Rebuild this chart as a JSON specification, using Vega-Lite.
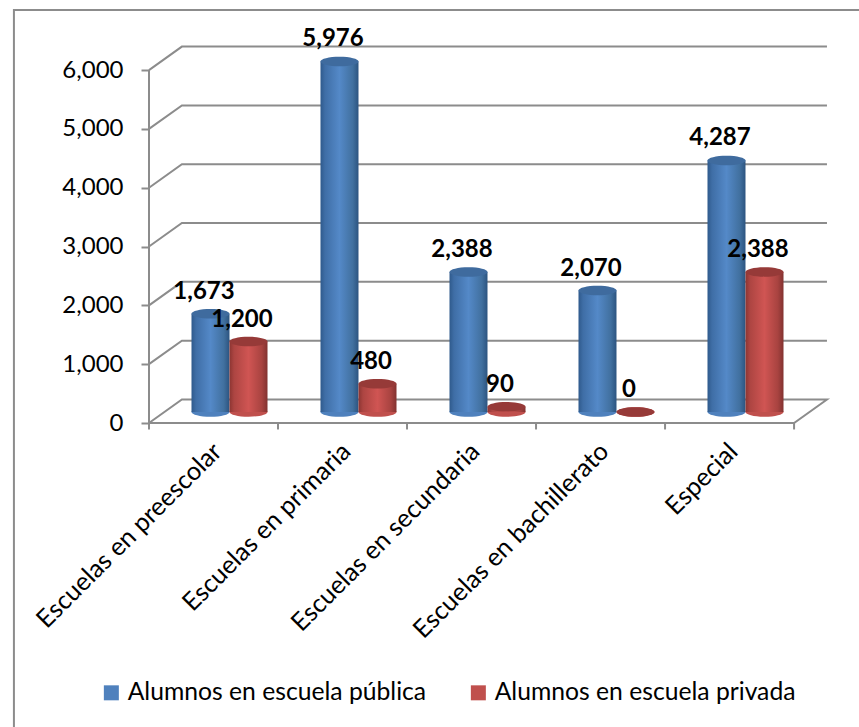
{
"$schema":"https://vega.github.io/schema/vega-lite/v6.json",
"width":679,"height":377,
"autosize":{"type":"none"},
"padding":{"left":149,"top":46,"right":31,"bottom":304},
"background":"white",
"config":{"view":{"stroke":null},"font":"Lato"},
"datasets":{
"bars":[
{"categoria":"Escuelas en preescolar","serie":"Alumnos en escuela pública","alumnos":1673},
{"categoria":"Escuelas en preescolar","serie":"Alumnos en escuela privada","alumnos":1200},
{"categoria":"Escuelas en primaria","serie":"Alumnos en escuela pública","alumnos":5976},
{"categoria":"Escuelas en primaria","serie":"Alumnos en escuela privada","alumnos":480},
{"categoria":"Escuelas en secundaria","serie":"Alumnos en escuela pública","alumnos":2388},
{"categoria":"Escuelas en secundaria","serie":"Alumnos en escuela privada","alumnos":90},
{"categoria":"Escuelas en bachillerato","serie":"Alumnos en escuela pública","alumnos":2070},
{"categoria":"Escuelas en bachillerato","serie":"Alumnos en escuela privada","alumnos":0},
{"categoria":"Especial","serie":"Alumnos en escuela pública","alumnos":4287},
{"categoria":"Especial","serie":"Alumnos en escuela privada","alumnos":2388}
],
"walls":[
{"l":"g0","u":0,"v":0},{"l":"g0","u":0.255,"v":400},{"l":"g0","u":5.255,"v":400},{"l":"g0","u":5,"v":0},{"l":"g0","u":0,"v":0},
{"l":"g1","u":0,"v":1000},{"l":"g1","u":0.255,"v":1400},{"l":"g1","u":5.255,"v":1400},
{"l":"g2","u":0,"v":2000},{"l":"g2","u":0.255,"v":2400},{"l":"g2","u":5.255,"v":2400},
{"l":"g3","u":0,"v":3000},{"l":"g3","u":0.255,"v":3400},{"l":"g3","u":5.255,"v":3400},
{"l":"g4","u":0,"v":4000},{"l":"g4","u":0.255,"v":4400},{"l":"g4","u":5.255,"v":4400},
{"l":"g5","u":0,"v":5000},{"l":"g5","u":0.255,"v":5400},{"l":"g5","u":5.255,"v":5400},
{"l":"g6","u":0,"v":6000},{"l":"g6","u":0.255,"v":6400},{"l":"g6","u":5.255,"v":6400},
{"l":"eje","u":0,"v":0},{"l":"eje","u":0,"v":6000},
{"l":"t0","u":0,"v":0},{"l":"t0","u":0,"v":-110},
{"l":"t1","u":1,"v":0},{"l":"t1","u":1,"v":-110},
{"l":"t2","u":2,"v":0},{"l":"t2","u":2,"v":-110},
{"l":"t3","u":3,"v":0},{"l":"t3","u":3,"v":-110},
{"l":"t4","u":4,"v":0},{"l":"t4","u":4,"v":-110},
{"l":"t5","u":5,"v":0},{"l":"t5","u":5,"v":-110},
{"l":"marco","u":-1.047,"v":-5170},{"l":"marco","u":-1.047,"v":7022},{"l":"marco","u":5.504,"v":7022}
]
},
"layer":[
{"data":{"name":"walls"},
 "mark":{"type":"line","stroke":"#8c8c8c","strokeWidth":2,"clip":false,"interpolate":"linear"},
 "encoding":{
  "detail":{"field":"l"},
  "order":{"field":"__i"},
  "x":{"field":"u","type":"quantitative","scale":{"domain":[0,5.263],"range":[0,679],"nice":false,"zero":false},"axis":null},
  "y":{"field":"v","type":"quantitative","scale":{"domain":[0,6410],"range":[377,0],"nice":false,"zero":false},
   "axis":{"title":null,"values":[0,1000,2000,3000,4000,5000,6000],"format":",.0f","domain":false,"grid":false,"tickColor":"#8c8c8c","tickWidth":2,"tickSize":8,"labelFont":"Lato","labelFontSize":24,"labelColor":"#000","labelPadding":18}}
 }},
{"data":{"name":"bars"},
 "mark":{"type":"point","filled":true,"opacity":1,"shape":"M-1,0A1,0.25,0,1,1,1,0A1,0.25,0,1,1,-1,0Z","size":1444},
 "encoding":{
  "x":{"field":"categoria","type":"nominal","sort":null,"scale":{"range":[16,661],"paddingInner":0,"paddingOuter":0},
    "axis":{"title":null,"domain":false,"ticks":false,"labelAngle":-45,"labelAlign":"right","labelBaseline":"middle","labelFont":"Lato","labelFontSize":25.3,"labelColor":"#000","labelOffset":-12,"labelPadding":24,"labelLimit":400}},
  "xOffset":{"field":"serie","type":"nominal","sort":["Alumnos en escuela pública","Alumnos en escuela privada"],"scale":{"paddingInner":0,"paddingOuter":0.697}},
  "y":{"datum":0,"type":"quantitative","scale":{"domain":[0,6000],"range":[366,14],"nice":false,"zero":false},"axis":null},
  "color":{"field":"serie","type":"nominal","sort":["Alumnos en escuela pública","Alumnos en escuela privada"],
    "scale":{"domain":["Alumnos en escuela pública","Alumnos en escuela privada"],"range":["#4f81bd","#c0504d"]},
    "legend":{"title":null,"orient":"none","direction":"horizontal","legendX":-50,"legendY":634,"symbolType":"square","symbolSize":225,"symbolOpacity":1,"labelFont":"Lato","labelFontSize":24.7,"labelColor":"#000","columnPadding":39,"labelOffset":4,"labelLimit":400}}
 }},
{"data":{"name":"bars"},
 "transform":[{"filter":"datum.serie == 'Alumnos en escuela pública'"}],
 "mark":{"type":"bar","width":38,"fill":{"gradient":"linear","x1":0,"x2":1,"y1":0,"y2":0,"stops":[{"offset":0,"color":"#2f5a8c"},{"offset":0.12,"color":"#3f6ea6"},{"offset":0.5,"color":"#5489c8"},{"offset":0.85,"color":"#41709f"},{"offset":1,"color":"#2c5480"}]}},
 "encoding":{
  "x":{"field":"categoria","type":"nominal","sort":null,"scale":{"range":[16,661],"paddingInner":0,"paddingOuter":0},"axis":null},
  "xOffset":{"field":"serie","type":"nominal","sort":["Alumnos en escuela pública","Alumnos en escuela privada"],"scale":{"domain":["Alumnos en escuela pública","Alumnos en escuela privada"],"paddingInner":0,"paddingOuter":0.697}},
  "y":{"field":"alumnos","type":"quantitative","scale":{"domain":[0,6000],"range":[366,14],"nice":false,"zero":false},"axis":null}
 }},
{"data":{"name":"bars"},
 "transform":[{"filter":"datum.serie == 'Alumnos en escuela privada'"}],
 "mark":{"type":"bar","width":38,"fill":{"gradient":"linear","x1":0,"x2":1,"y1":0,"y2":0,"stops":[{"offset":0,"color":"#8c3532"},{"offset":0.12,"color":"#ad4542"},{"offset":0.5,"color":"#d05553"},{"offset":0.85,"color":"#a84340"},{"offset":1,"color":"#823230"}]}},
 "encoding":{
  "x":{"field":"categoria","type":"nominal","sort":null,"scale":{"range":[16,661],"paddingInner":0,"paddingOuter":0},"axis":null},
  "xOffset":{"field":"serie","type":"nominal","sort":["Alumnos en escuela pública","Alumnos en escuela privada"],"scale":{"domain":["Alumnos en escuela pública","Alumnos en escuela privada"],"paddingInner":0,"paddingOuter":0.697}},
  "y":{"field":"alumnos","type":"quantitative","scale":{"domain":[0,6000],"range":[366,14],"nice":false,"zero":false},"axis":null}
 }},
{"data":{"name":"bars"},
 "mark":{"type":"point","filled":true,"opacity":1,"shape":"M-1,0A1,0.25,0,1,1,1,0A1,0.25,0,1,1,-1,0Z","size":1444},
 "encoding":{
  "x":{"field":"categoria","type":"nominal","sort":null,"scale":{"range":[16,661],"paddingInner":0,"paddingOuter":0},"axis":null},
  "xOffset":{"field":"serie","type":"nominal","sort":["Alumnos en escuela pública","Alumnos en escuela privada"],"scale":{"domain":["Alumnos en escuela pública","Alumnos en escuela privada"],"paddingInner":0,"paddingOuter":0.697}},
  "y":{"field":"alumnos","type":"quantitative","scale":{"domain":[0,6000],"range":[366,14],"nice":false,"zero":false},"axis":null},
  "fill":{"field":"serie","type":"nominal","scale":{"domain":["Alumnos en escuela pública","Alumnos en escuela privada"],"range":["#3f6b9e","#963a38"]},"legend":null}
 }},
{"data":{"name":"bars"},
 "mark":{"type":"text","font":"Lato","fontWeight":"bold","fontSize":24,"color":"#000","dx":-6.5,"dy":-22,"baseline":"middle"},
 "encoding":{
  "x":{"field":"categoria","type":"nominal","sort":null,"scale":{"range":[16,661],"paddingInner":0,"paddingOuter":0},"axis":null},
  "xOffset":{"field":"serie","type":"nominal","sort":["Alumnos en escuela pública","Alumnos en escuela privada"],"scale":{"domain":["Alumnos en escuela pública","Alumnos en escuela privada"],"paddingInner":0,"paddingOuter":0.697}},
  "y":{"field":"alumnos","type":"quantitative","scale":{"domain":[0,6000],"range":[366,14],"nice":false,"zero":false},"axis":null},
  "text":{"field":"alumnos","type":"quantitative","format":","}
 }}
],
"resolve":{"scale":{"x":"shared","y":"independent","xOffset":"shared"}}
}
